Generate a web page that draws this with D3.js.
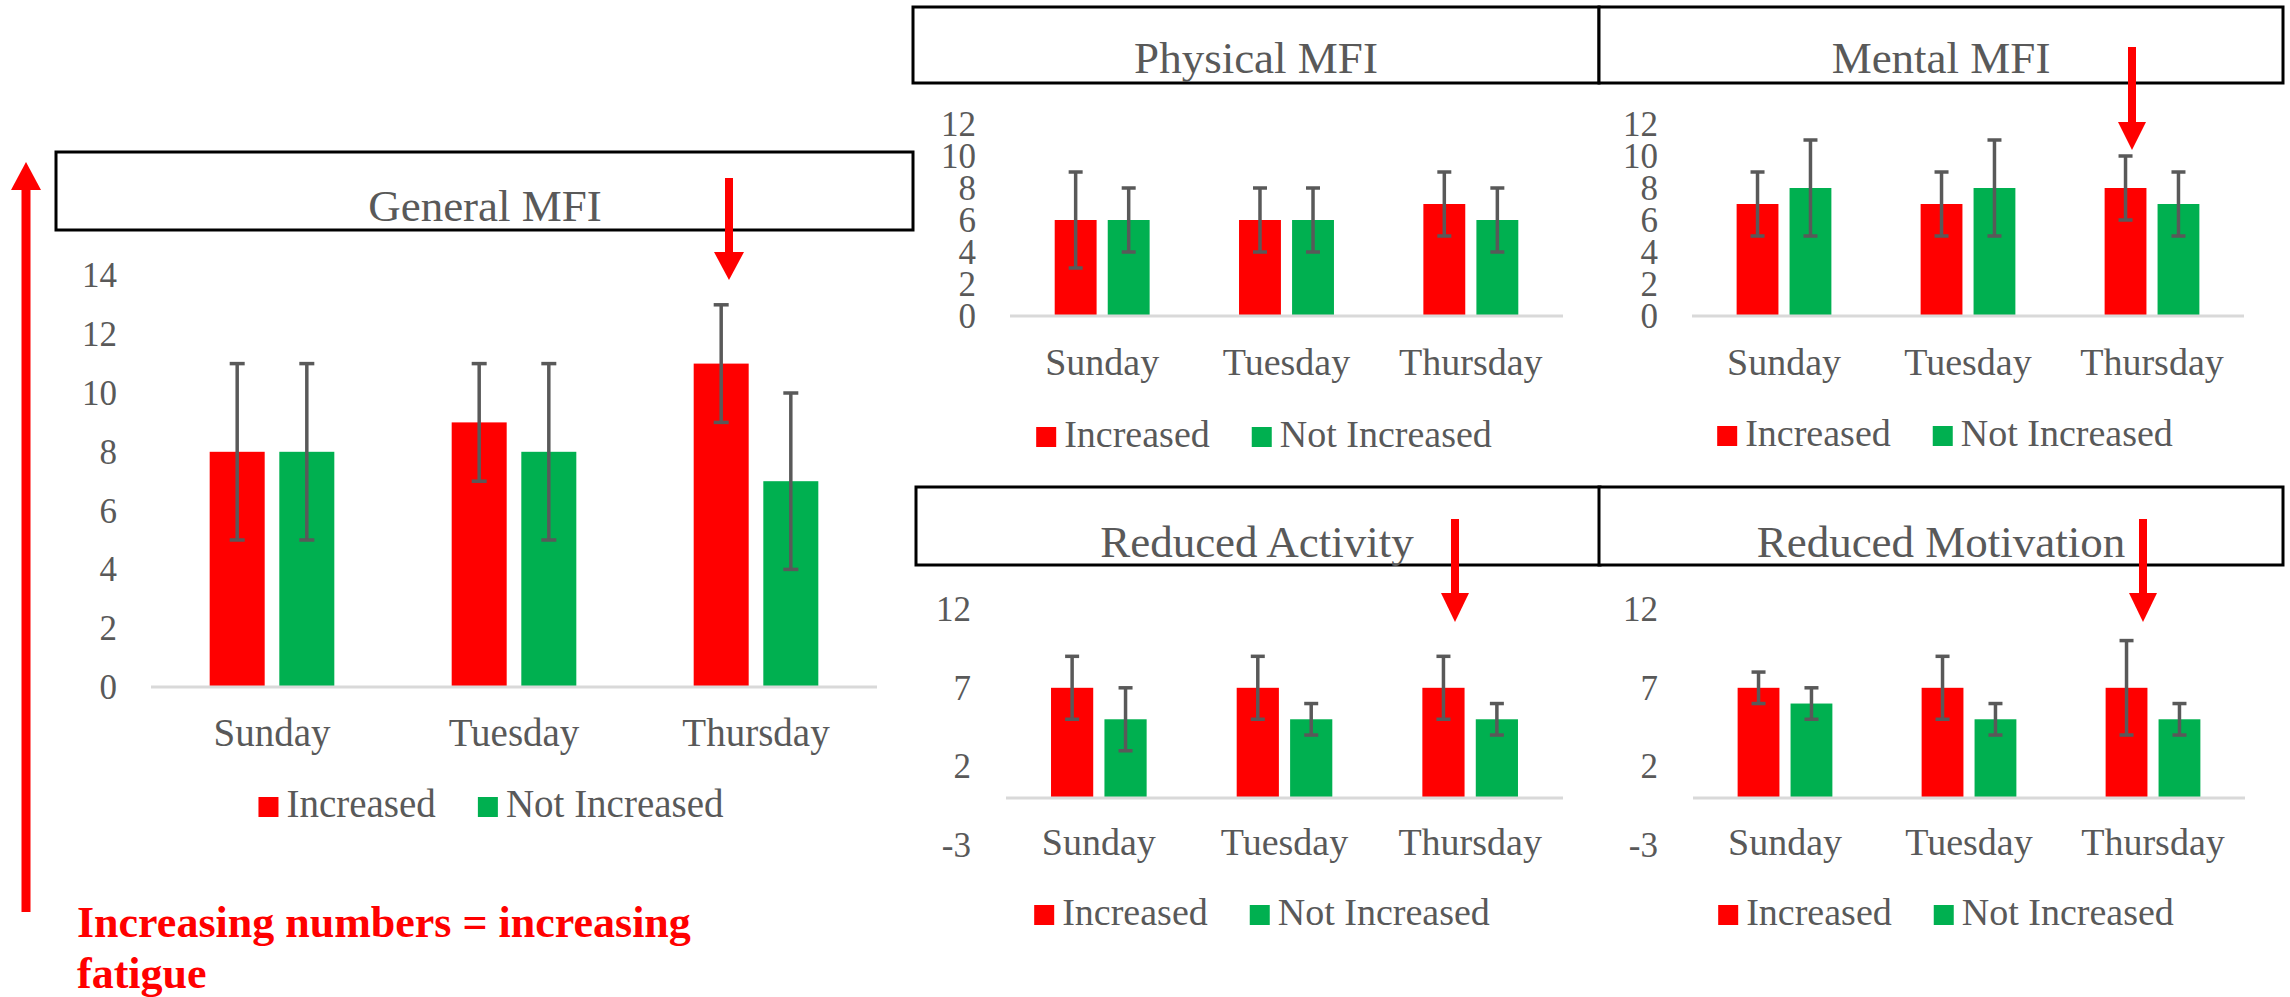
<!DOCTYPE html>
<html>
<head>
<meta charset="utf-8">
<script src="https://cdn.jsdelivr.net/npm/d3@7"></script>
<style>
  body { margin: 0; background: #fff; }
  svg { display: block; font-family: "Liberation Serif", "Times New Roman", serif; }
</style>
</head>
<body>
<script>
// categories and series
const days = ["Sunday", "Tuesday", "Thursday"];
const groups = ["Increased", "Not Increased"];

// General MFI
const generalIncreased = [8, 9, 11];
const generalNotIncreased = [8, 8, 7];
const generalIncreasedErr = [3, 2, 2];
const generalNotIncreasedErr = [3, 3, 3];

// Physical MFI
const physicalIncreased = [6, 6, 7];
const physicalNotIncreased = [6, 6, 6];
const physicalIncreasedErr = [3, 2, 2];
const physicalNotIncreasedErr = [2, 2, 2];

// Mental MFI
const mentalIncreased = [7, 7, 8];
const mentalNotIncreased = [8, 8, 7];
const mentalIncreasedErr = [2, 2, 2];
const mentalNotIncreasedErr = [3, 3, 2];

// Reduced Activity
const activityIncreased = [7, 7, 7];
const activityNotIncreased = [5, 5, 5];
const activityIncreasedErr = [2, 2, 2];
const activityNotIncreasedErr = [2, 1, 1];

// Reduced Motivation
const motivationIncreased = [7, 7, 7];
const motivationNotIncreased = [6, 5, 5];
const motivationIncreasedErr = [1, 2, 3];
const motivationNotIncreasedErr = [1, 1, 1];

// y tick labels
const ticksGeneral = [0, 2, 4, 6, 8, 10, 12, 14];
const ticksTop = [0, 2, 4, 6, 8, 10, 12];
const ticksBottom = [-3, 2, 7, 12];

const note = ["Increasing numbers = increasing", "fatigue"];

const width = 2290, height = 997;
const colors = { inc: "#ff0000", not: "#00b050", text: "#595959", err: "#595959", axis: "#d9d9d9" };

const svg = d3.select("body").append("svg")
    .attr("width", width)
    .attr("height", height);

// panel layout (pixels only, values come from the arrays above)
const panels = [
  { title: "General MFI", inc: generalIncreased, not: generalNotIncreased,
    incErr: generalIncreasedErr, notErr: generalNotIncreasedErr,
    ticks: ticksGeneral, domain: [0, 14], yRange: [687, 275.4],
    box: [56, 152, 913, 230], titleX: 485, titleY: 221,
    xRange: [151, 877], tickRight: 117, catY: 746, legendX: 491, legendY: 817, font: 39, cap: 15 },
  { title: "Physical MFI", inc: physicalIncreased, not: physicalNotIncreased,
    incErr: physicalIncreasedErr, notErr: physicalNotIncreasedErr,
    ticks: ticksTop, domain: [0, 12], yRange: [316, 124],
    box: [913, 7, 1599, 83], titleX: 1256, titleY: 73,
    xRange: [1010, 1563], tickRight: 976, catY: 375, legendX: 1264, legendY: 447, font: 38, cap: 14 },
  { title: "Mental MFI", inc: mentalIncreased, not: mentalNotIncreased,
    incErr: mentalIncreasedErr, notErr: mentalNotIncreasedErr,
    ticks: ticksTop, domain: [0, 12], yRange: [316, 124],
    box: [1599, 7, 2283, 83], titleX: 1941, titleY: 73,
    xRange: [1692, 2244], tickRight: 1658, catY: 375, legendX: 1945, legendY: 446, font: 38, cap: 14 },
  { title: "Reduced Activity", inc: activityIncreased, not: activityNotIncreased,
    incErr: activityIncreasedErr, notErr: activityNotIncreasedErr,
    ticks: ticksBottom, domain: [-3, 12], yRange: [845.2, 609.1],
    box: [916, 487, 1600, 565], titleX: 1257, titleY: 557,
    xRange: [1006, 1563], tickRight: 971, catY: 855, legendX: 1262, legendY: 925, font: 38, cap: 14 },
  { title: "Reduced Motivation", inc: motivationIncreased, not: motivationNotIncreased,
    incErr: motivationIncreasedErr, notErr: motivationNotIncreasedErr,
    ticks: ticksBottom, domain: [-3, 12], yRange: [845.2, 609.1],
    box: [1599, 487, 2283, 565], titleX: 1941, titleY: 557,
    xRange: [1693, 2245], tickRight: 1658, catY: 855, legendX: 1946, legendY: 925, font: 38, cap: 14 }
];

function drawPanel(p) {
  const g = svg.append("g");

  // title box
  g.append("rect")
    .attr("x", p.box[0]).attr("y", p.box[1])
    .attr("width", p.box[2] - p.box[0]).attr("height", p.box[3] - p.box[1])
    .attr("fill", "#fff").attr("stroke", "#000").attr("stroke-width", 3);

  g.append("text")
    .attr("x", p.titleX).attr("y", p.titleY)
    .attr("text-anchor", "middle")
    .attr("fill", colors.text)
    .style("font-size", "45px")
    .text(p.title);

  const x0 = d3.scaleBand().domain(days).range(p.xRange).paddingInner(0.485).paddingOuter(0.2425);
  const x1 = d3.scaleBand().domain(groups).range([0, x0.bandwidth()]).paddingInner(0.21);
  const y = d3.scaleLinear().domain(p.domain).range(p.yRange);

  // y tick labels
  g.selectAll(".ytick").data(p.ticks).enter().append("text")
    .attr("x", p.tickRight)
    .attr("y", d => y(d))
    .attr("dy", "0.34em")
    .attr("text-anchor", "end")
    .attr("fill", colors.text)
    .style("font-size", "35px")
    .text(d => d);

  // bars
  const rows = days.map((d, i) => ({
    day: d,
    vals: [
      { key: groups[0], v: p.inc[i], e: p.incErr[i], c: colors.inc },
      { key: groups[1], v: p.not[i], e: p.notErr[i], c: colors.not }
    ]
  }));

  const cat = g.selectAll(".cat").data(rows).enter().append("g")
    .attr("transform", d => `translate(${x0(d.day)},0)`);

  cat.selectAll("rect").data(d => d.vals).enter().append("rect")
    .attr("x", d => x1(d.key))
    .attr("y", d => y(d.v))
    .attr("width", x1.bandwidth())
    .attr("height", d => y(0) - y(d.v))
    .attr("fill", d => d.c);

  // baseline
  g.append("line")
    .attr("x1", p.xRange[0]).attr("x2", p.xRange[1])
    .attr("y1", y(0)).attr("y2", y(0))
    .attr("stroke", colors.axis).attr("stroke-width", 3);

  // error bars
  const eb = cat.selectAll(".err").data(d => d.vals).enter().append("g")
    .attr("transform", d => `translate(${x1(d.key) + x1.bandwidth() / 2},0)`)
    .attr("stroke", colors.err).attr("stroke-width", 3.5);
  eb.append("line").attr("y1", d => y(d.v - d.e)).attr("y2", d => y(d.v + d.e));
  eb.append("line").attr("x1", -p.cap / 2).attr("x2", p.cap / 2)
    .attr("y1", d => y(d.v + d.e)).attr("y2", d => y(d.v + d.e));
  eb.append("line").attr("x1", -p.cap / 2).attr("x2", p.cap / 2)
    .attr("y1", d => y(d.v - d.e)).attr("y2", d => y(d.v - d.e));

  // category labels
  g.selectAll(".xlab").data(days).enter().append("text")
    .attr("x", d => x0(d) + x0.bandwidth() / 2)
    .attr("y", p.catY)
    .attr("text-anchor", "middle")
    .attr("fill", colors.text)
    .style("font-size", p.font + "px")
    .text(d => d);

  // legend
  const leg = g.append("g");
  const items = leg.selectAll("g").data(groups).enter().append("g");
  items.append("rect")
    .attr("width", 20).attr("height", 20)
    .attr("y", p.legendY - 20)
    .attr("fill", (d, i) => i === 0 ? colors.inc : colors.not);
  items.append("text")
    .attr("x", 28).attr("y", p.legendY)
    .attr("fill", colors.text)
    .style("font-size", p.font + "px")
    .text(d => d);
  const widths = [];
  items.select("text").each(function() { widths.push(this.getComputedTextLength()); });
  const total = 28 + widths[0] + 42 + 28 + widths[1];
  let cx = p.legendX - total / 2;
  items.attr("transform", (d, i) => {
    const t = `translate(${cx},0)`;
    cx += 28 + widths[i] + 42;
    return t;
  });
}

panels.forEach(drawPanel);

// arrows
function arrow(xPos, yStart, yBase, yTip, shaft, head) {
  svg.append("line")
    .attr("x1", xPos).attr("x2", xPos)
    .attr("y1", yStart).attr("y2", yBase)
    .attr("stroke", "#ff0000").attr("stroke-width", shaft);
  svg.append("path")
    .attr("d", `M${xPos - head / 2},${yBase} L${xPos + head / 2},${yBase} L${xPos},${yTip} Z`)
    .attr("fill", "#ff0000");
}

arrow(26, 912, 190, 162, 9, 30);
arrow(729, 178, 252, 280, 8, 30);
arrow(2132, 47, 122, 150, 8, 28);
arrow(1455, 519, 593, 622, 8, 28);
arrow(2143, 519, 593, 622, 8, 28);

// note
svg.append("g").selectAll("text").data(note).enter().append("text")
  .attr("x", 77)
  .attr("y", (d, i) => 937 + i * 51)
  .attr("fill", "#ff0000")
  .style("font-size", "44px")
  .style("font-weight", "bold")
  .text(d => d);
</script>
</body>
</html>
